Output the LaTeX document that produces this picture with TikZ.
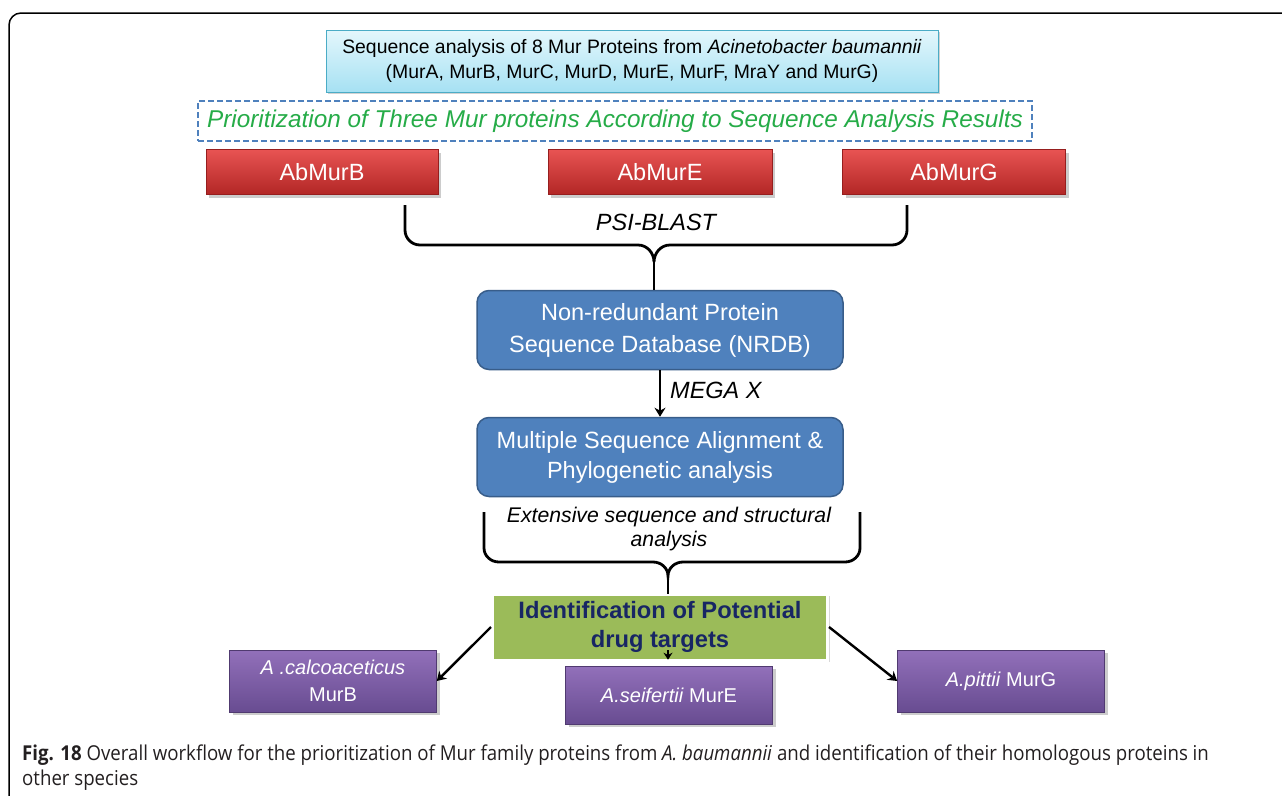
\documentclass[tikz,border=0pt]{standalone}
\usepackage{fontspec}
\setmainfont{Liberation Sans}
\newfontfamily\capfont[FakeStretch=0.91]{Open Sans}
\usetikzlibrary{shadows,arrows.meta}
\definecolor{cyanT}{RGB}{228,247,252}
\definecolor{cyanB}{RGB}{166,225,243}
\definecolor{cyanD}{RGB}{75,172,198}
\definecolor{dashblue}{RGB}{79,129,189}
\definecolor{prigreen}{RGB}{38,172,72}
\definecolor{redT}{RGB}{232,84,82}
\definecolor{redB}{RGB}{178,38,38}
\definecolor{redD}{RGB}{150,30,30}
\definecolor{blueF}{RGB}{79,129,189}
\definecolor{blueD}{RGB}{56,93,138}
\definecolor{greenF}{RGB}{155,187,89}
\definecolor{navy}{RGB}{24,38,100}
\definecolor{purT}{RGB}{146,112,186}
\definecolor{purB}{RGB}{104,76,145}
\definecolor{purD}{RGB}{80,58,112}
\definecolor{captxt}{RGB}{35,31,32}
\begin{document}
\begin{tikzpicture}[x=1pt,y=-1pt,
  cyanbox/.style={draw=cyanD, line width=1pt, top color=cyanT, bottom color=cyanB,
    drop shadow={shadow xshift=2pt, shadow yshift=-2pt, opacity=0.35},
    align=center, font=\fontsize{19.4}{25}\selectfont, inner sep=0pt},
  redbox/.style={draw=redD, line width=0.6pt, top color=redT, bottom color=redB,
    drop shadow={shadow xshift=3pt, shadow yshift=-3pt, opacity=0.4},
    text=white, font=\fontsize{23.5}{27}\selectfont, minimum height=45pt, inner sep=0pt},
  bluebox/.style={draw=blueD, line width=1.5pt, fill=blueF, rounded corners=12pt,
    text=white, align=center, font=\fontsize{23.5}{32}\selectfont,
    minimum width=366pt, minimum height=79pt, inner sep=0pt},
  greenbox/.style={draw=white, line width=3pt, fill=greenF,
    drop shadow={shadow xshift=2pt, shadow yshift=-2pt, opacity=0.3},
    text=navy, align=center, font=\fontsize{23.7}{29}\selectfont\bfseries,
    minimum width=335pt, minimum height=66pt, inner sep=0pt},
  purbox/.style={draw=purD, line width=0.6pt, top color=purT, bottom color=purB,
    drop shadow={shadow xshift=3pt, shadow yshift=-3pt, opacity=0.4},
    text=white, align=center, font=\fontsize{20}{27}\selectfont,
    minimum width=207pt, minimum height=62pt, inner sep=0pt},
  lbl/.style={font=\fontsize{23.5}{27}\selectfont\itshape, inner sep=0pt},
  bracket/.style={line width=2.8pt, black},
  arr/.style={line width=2.4pt, -{Stealth[length=9pt,width=11pt]}},
]
\useasboundingbox (0,0) rectangle (1282,795);
\fill[white] (0,0) rectangle (1282,795);
% frame
\draw[line width=1.5pt, rounded corners=12pt] (9,800) -- (9,13) -- (1290,13);

% top box
\node[cyanbox, minimum width=612pt, minimum height=62pt] (seq) at (632,61)
  {Sequence analysis of 8 Mur Proteins from \textit{Acinetobacter baumannii}\\(MurA, MurB, MurC, MurD, MurE, MurF, MraY and MurG)};

% dashed prioritization box
\node[draw=dashblue, dash pattern=on 6pt off 3pt, line width=2.5pt,
  minimum width=834pt, minimum height=40pt, inner sep=0pt, text=prigreen,
  font=\fontsize{24.3}{28}\selectfont\itshape] (prio) at (615,121)
  {Prioritization of Three Mur proteins According to Sequence Analysis Results};

% red boxes
\node[redbox, minimum width=232pt] (murb) at (322,172) {AbMurB};
\node[redbox, minimum width=224pt] (mure) at (660,172) {AbMurE};
\node[redbox, minimum width=223pt] (murg) at (954,172) {AbMurG};

% blue boxes
\node[bluebox] (nrdb) at (660,330) {Non-redundant Protein\\Sequence Database (NRDB)};
\node[bluebox, font=\fontsize{23.5}{30}\selectfont] (msa) at (660,457) {Multiple Sequence Alignment \&\\Phylogenetic analysis};

% brace 1
\coordinate (bl) at (405,205);
\coordinate (br) at (907,205);
\coordinate (tip1) at (654,262);
\draw[bracket] (bl) -- (405,230) to[out=-90,in=180] (420,245) -- (638,245)
  to[out=0,in=90] (tip1) to[out=90,in=180] (670,245) -- (892,245)
  to[out=0,in=-90] (907,230) -- (br);
\draw[bracket] (tip1) -- (nrdb.north -| tip1);
\node[lbl] (psi) at (656,222) {PSI-BLAST};

% arrow MEGA X
\draw[arr] (nrdb.south) -- (msa.north);
\node[lbl, anchor=west] (mega) at (670,390) {MEGA X};

% green box
\node[greenbox] (green) at (660,627) {Identification of Potential\\drug targets};

% brace 2
\coordinate (cl) at (484,512);
\coordinate (cr) at (860,512);
\coordinate (tip2) at (668,576);
\draw[bracket] (cl) -- (484,548) to[out=-90,in=180] (499,562) -- (653,562)
  to[out=0,in=90] (tip2) to[out=90,in=180] (683,562) -- (845,562)
  to[out=0,in=-90] (860,548) -- (cr);
\draw[bracket] (tip2) -- (668,594);
\node[lbl, font=\fontsize{21.2}{24}\selectfont\itshape, align=center] (ext) at (669,529)
  {Extensive sequence and structural\\analysis};

% purple boxes
\node[purbox] (calc) at (333,681) {\textit{A .calcoaceticus}\\MurB};
\node[purbox, minimum height=58pt] (seif) at (669,695) {\textit{A.seifertii} MurE};
\node[purbox] (pitt) at (1001,681) {\textit{A.pittii} MurG};

% arrows from green box
\draw[arr] (green.west) -- (calc.east);
\coordinate (gm) at (668,650);
\draw[arr, line width=2pt, -{Stealth[length=7pt,width=9pt]}] (gm) -- ([yshift=6pt]seif.north -| gm);
\draw[arr] (green.east) -- (pitt.west);

% caption
\node[anchor=north west, align=left, inner sep=0pt, text=captxt,
  font=\capfont\fontsize{20.5}{25}\selectfont] (cap) at (22,745)
  {\textbf{Fig. 18} Overall workflow for the prioritization of Mur family proteins from \textit{A. baumannii} and identification of their homologous proteins in\\other species};
\end{tikzpicture}
\end{document}
